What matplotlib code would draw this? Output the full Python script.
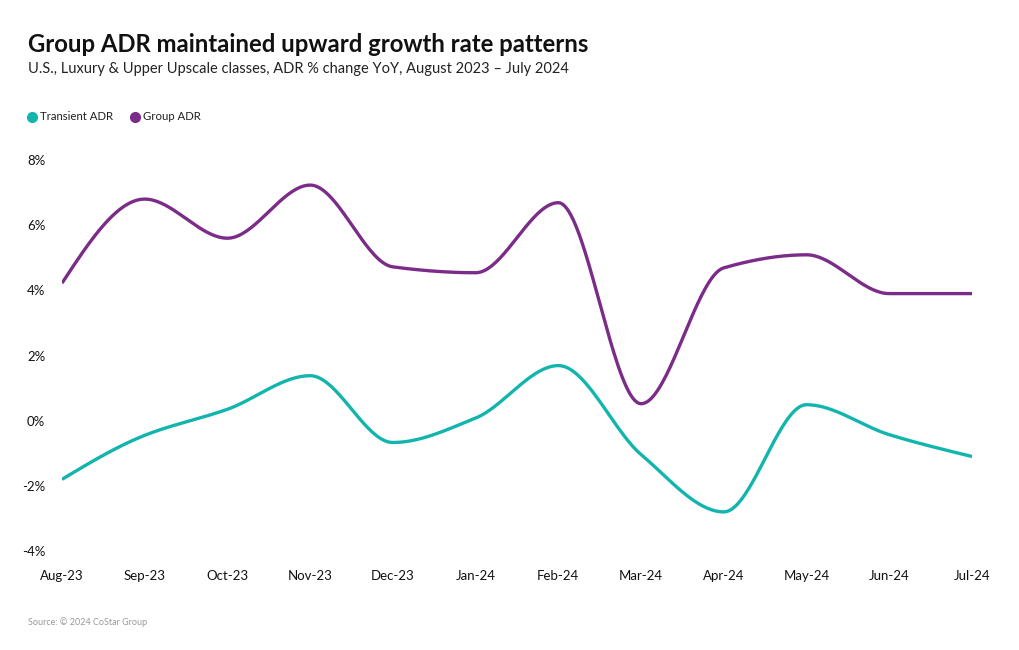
import numpy as np
import matplotlib
matplotlib.use("Agg")
import matplotlib.pyplot as plt

months = ["Aug-23", "Sep-23", "Oct-23", "Nov-23", "Dec-23", "Jan-24",
          "Feb-24", "Mar-24", "Apr-24", "May-24", "Jun-24", "Jul-24"]
transient_adr = [-1.8, -0.45, 0.35, 1.38, -0.67, 0.08, 1.69, -1.04, -2.8, 0.49, -0.43, -1.1]
group_adr = [4.22, 6.8, 5.6, 7.23, 4.72, 4.54, 6.69, 0.52, 4.69, 5.09, 3.9, 3.9]
yticks = [-4, -2, 0, 2, 4, 6, 8]

TEAL = "#12b5ae"
PURPLE = "#7a2c88"

plt.rcParams['font.family'] = ['Lato', 'DejaVu Sans']


def monotone_curve(x, y, n=40):
    x = np.asarray(x, float)
    y = np.asarray(y, float)
    h = np.diff(x)
    d = np.diff(y) / h
    m = np.zeros_like(y)
    for i in range(1, len(y) - 1):
        if d[i - 1] * d[i] <= 0:
            m[i] = 0
        else:
            w1 = 2 * h[i] + h[i - 1]
            w2 = h[i] + 2 * h[i - 1]
            m[i] = (w1 + w2) / (w1 / d[i - 1] + w2 / d[i])
    m[0] = (3 * d[0] - m[1]) / 2 if len(d) > 1 else d[0]
    m[-1] = (3 * d[-1] - m[-2]) / 2
    if np.sign(m[0]) != np.sign(d[0]):
        m[0] = 0
    if np.sign(m[-1]) != np.sign(d[-1]):
        m[-1] = 0
    xs, ys = [], []
    for i in range(len(x) - 1):
        t = np.linspace(0, 1, n, endpoint=False)
        h00 = 2 * t**3 - 3 * t**2 + 1
        h10 = t**3 - 2 * t**2 + t
        h01 = -2 * t**3 + 3 * t**2
        h11 = t**3 - t**2
        xs.append(x[i] + t * h[i])
        ys.append(h00 * y[i] + h10 * h[i] * m[i] + h01 * y[i + 1] + h11 * h[i] * m[i + 1])
    xs.append([x[-1]])
    ys.append([y[-1]])
    return np.concatenate(xs), np.concatenate(ys)


fig = plt.figure(figsize=(10.2, 6.5), dpi=100)
W, H = 1020, 650
ax = fig.add_axes([62 / W, 1 - 551 / H, (972 - 62) / W, (551 - 160) / H])

x = np.arange(len(months))
for vals, col, lab in [(transient_adr, TEAL, "Transient ADR"), (group_adr, PURPLE, "Group ADR")]:
    xs, ys = monotone_curve(x, vals)
    ax.plot(xs, ys, color=col, lw=2.4, solid_capstyle='butt', label=lab)

ax.set_xlim(0, len(months) - 1)
ax.set_ylim(-4, 8)
ax.set_xticks(x)
ax.set_xticklabels(months)
ax.set_yticks(yticks)
ax.set_yticklabels([f"{v}%" for v in yticks])
for s in ax.spines.values():
    s.set_visible(False)
ax.tick_params(axis='both', length=0, labelsize=9.5, colors='#111111')
ax.tick_params(axis='x', pad=14)
ax.tick_params(axis='y', pad=12)

fig.text(28 / W, 1 - 44 / H, "Group ADR maintained upward growth rate patterns",
         fontsize=17.2, fontweight='bold', va='center', ha='left', color='#111111')
fig.text(28 / W, 1 - 69 / H,
         "U.S., Luxury & Upper Upscale classes, ADR % change YoY, August 2023 \u2013 July 2024",
         fontsize=10.5, va='center', ha='left', color='#222222')

# legend
fig.lines.append(plt.Line2D([32 / W], [1 - 117 / H], marker='o', ms=7, color=TEAL,
                            transform=fig.transFigure, lw=0))
fig.text(40 / W, 1 - 117 / H, "Transient ADR", fontsize=8.2, va='center', ha='left', color='#222222')
fig.lines.append(plt.Line2D([135 / W], [1 - 117 / H], marker='o', ms=7, color=PURPLE,
                            transform=fig.transFigure, lw=0))
fig.text(143 / W, 1 - 117 / H, "Group ADR", fontsize=8.2, va='center', ha='left', color='#222222')

fig.text(28 / W, 1 - 622 / H, "Source: \u00a9 2024 CoStar Group", fontsize=6.5,
         va='center', ha='left', color='#999999')

fig.savefig("out.png", dpi=100)
